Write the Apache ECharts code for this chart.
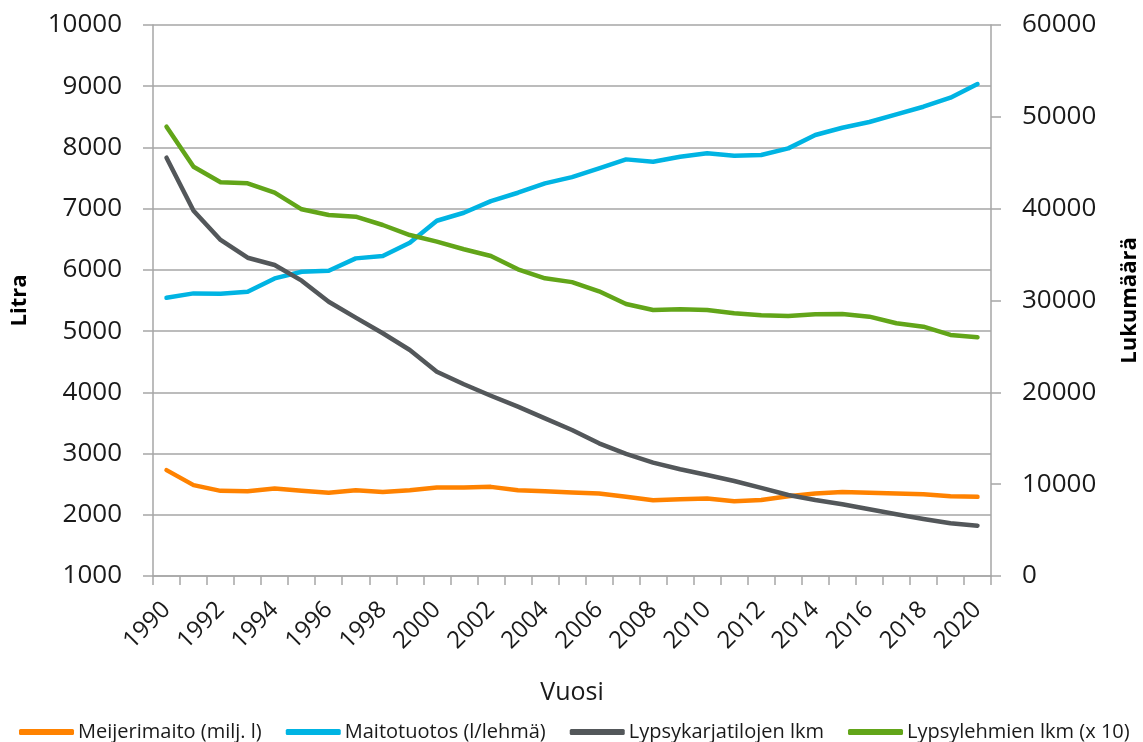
<!DOCTYPE html>
<html>
<head>
<meta charset="utf-8">
<script src="https://cdn.jsdelivr.net/npm/echarts@6/dist/echarts.min.js"></script>
<style>
  html, body { margin: 0; padding: 0; background: #fff; }
  #chart { width: 1143px; height: 742px; }
</style>
</head>
<body>
<div id="chart"></div>
<script>
const years = [];
for (let y = 1990; y <= 2020; y++) years.push(String(y));

// vasen akseli (litra)
const meijerimaito = [2729, 2484, 2391, 2386, 2430, 2391, 2358, 2402, 2374, 2402,
  2446, 2446, 2456, 2402, 2386, 2365, 2348, 2293, 2239, 2255,
  2266, 2222, 2240, 2304, 2348, 2374, 2358, 2348, 2337, 2304, 2293];
const maitotuotos = [5544, 5616, 5610, 5642, 5861, 5969, 5986, 6188, 6226, 6443,
  6803, 6933, 7124, 7260, 7413, 7515, 7658, 7805, 7767, 7848,
  7904, 7865, 7876, 7985, 8203, 8322, 8415, 8541, 8665, 8812, 9036];

// oikea akseli (lukumäärä)
const tilat = [45550, 39780, 36590, 34660, 33870, 32160, 29870, 28130, 26430, 24610,
  22250, 20880, 19630, 18440, 17170, 15900, 14450, 13290, 12340, 11620,
  11000, 10350, 9600, 8820, 8280, 7810, 7260, 6720, 6210, 5740, 5480];
const lehmat = [48930, 44570, 42870, 42760, 41740, 39930, 39310, 39130, 38220, 37130,
  36410, 35580, 34850, 33400, 32420, 32000, 31000, 29620, 28970, 29040,
  28970, 28610, 28390, 28310, 28500, 28530, 28240, 27520, 27150, 26250, 26000];

const names = ['Meijerimaito (milj. l)', 'Maitotuotos (l/lehmä)', 'Lypsykarjatilojen lkm', 'Lypsylehmien lkm (x 10)'];
const colors = ['#ff8200', '#00b4e3', '#53575a', '#62a519'];

const font = "'Open Sans', 'Noto Sans', sans-serif";
const axisGray = '#a6a6a6';

let chart = echarts.init(document.getElementById('chart'));

chart.setOption({
  animation: false,
  backgroundColor: '#fff',
  textStyle: { fontFamily: font, color: '#1a1a1a' },
  grid: { left: 153, right: 152, top: 25, bottom: 166, containLabel: false, outerBoundsMode: 'none' },
  legend: {
    left: 14,
    top: 717,
    icon: 'roundRect',
    itemWidth: 55,
    itemHeight: 6,
    itemGap: 24,
    textStyle: { fontFamily: font, fontSize: 20, color: '#1a1a1a', padding: [0, 0, 0, -1] },
    data: names
  },
  xAxis: {
    type: 'category',
    data: years,
    boundaryGap: true,
    name: 'Vuosi',
    nameLocation: 'middle',
    nameGap: 104,
    nameTextStyle: { fontFamily: font, fontSize: 25, color: '#1a1a1a' },
    axisLine: { lineStyle: { color: axisGray, width: 1.5 } },
    axisTick: { show: true, interval: 0, length: 9, lineStyle: { color: axisGray, width: 1.5 } },
    axisLabel: { interval: 1, rotate: 45, margin: 30, fontSize: 24, color: '#1a1a1a', fontFamily: font },
    splitLine: { show: false }
  },
  yAxis: [
    {
      type: 'value',
      min: 1000,
      max: 10000,
      interval: 1000,
      name: 'Litra',
      nameLocation: 'middle',
      nameRotate: 90,
      nameGap: 122,
      nameTextStyle: { fontFamily: font, fontSize: 22, fontWeight: 'bold', color: '#000' },
      axisLine: { show: true, lineStyle: { color: axisGray, width: 1.5 } },
      axisTick: { show: true, length: 10, lineStyle: { color: axisGray, width: 1.5 } },
      axisLabel: { margin: 31, fontSize: 26, color: '#1a1a1a', fontFamily: font, formatter: v => String(v) },
      splitLine: { show: true, lineStyle: { color: axisGray, width: 1.5 } }
    },
    {
      type: 'value',
      min: 0,
      max: 60000,
      interval: 10000,
      position: 'right',
      name: 'Lukumäärä',
      nameLocation: 'middle',
      nameRotate: 90,
      nameGap: 128,
      nameTextStyle: { fontFamily: font, fontSize: 22, fontWeight: 'bold', color: '#000' },
      axisLine: { show: true, lineStyle: { color: axisGray, width: 1.5 } },
      axisTick: { show: true, length: 10, lineStyle: { color: axisGray, width: 1.5 } },
      axisLabel: { margin: 31, fontSize: 26, color: '#1a1a1a', fontFamily: font, formatter: v => String(v) },
      splitLine: { show: false }
    }
  ],
  series: [
    {
      name: names[0], type: 'line', yAxisIndex: 0, data: meijerimaito,
      symbol: 'none', color: colors[0], lineStyle: { width: 4.5, color: colors[0], cap: 'round', join: 'round' }
    },
    {
      name: names[1], type: 'line', yAxisIndex: 0, data: maitotuotos,
      symbol: 'none', color: colors[1], lineStyle: { width: 4.5, color: colors[1], cap: 'round', join: 'round' }
    },
    {
      name: names[2], type: 'line', yAxisIndex: 1, data: tilat,
      symbol: 'none', color: colors[2], lineStyle: { width: 4.5, color: colors[2], cap: 'round', join: 'round' }
    },
    {
      name: names[3], type: 'line', yAxisIndex: 1, data: lehmat,
      symbol: 'none', color: colors[3], lineStyle: { width: 4.5, color: colors[3], cap: 'round', join: 'round' }
    }
  ]
});
</script>
</body>
</html>
